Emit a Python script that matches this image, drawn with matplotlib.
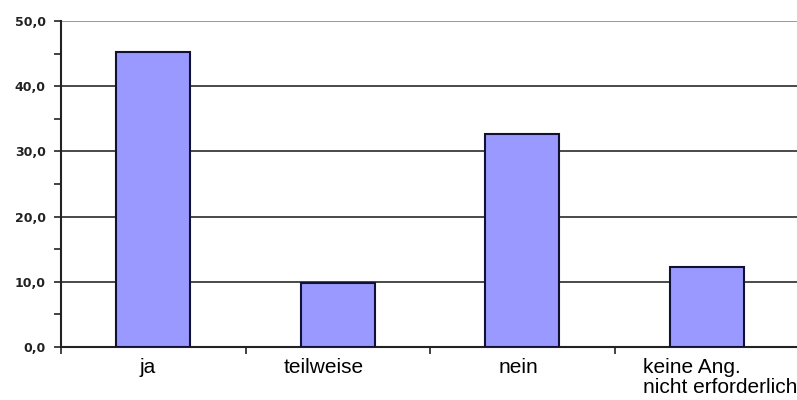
import matplotlib
matplotlib.use("Agg")
import matplotlib.pyplot as plt
from matplotlib.ticker import MultipleLocator, FixedLocator, FuncFormatter

categories = ["ja", "teilweise", "nein", "keine Ang.\nnicht erforderlich"]
values = [45.2, 9.8, 32.7, 12.3]
yticks = [0, 10, 20, 30, 40, 50]
label_shift = [-0.033, -0.076, -0.022, 0.073]  # layout nudges of category labels

plt.rcParams['font.family'] = ['Liberation Sans', 'DejaVu Sans']
fig = plt.figure(figsize=(7.97, 4.0), dpi=100)
ax = fig.add_axes([61/797, 1-347/400, 738/797, (347-21)/400])

x = list(range(len(categories)))
ax.set_axisbelow(True)
for yv in yticks[1:]:
    ax.axhline(yv, color='#2a2a2a' if yv < 50 else '#888888', lw=1.2, zorder=0)
ax.bar(x, values, width=0.4, color='#9999FF', edgecolor='#111133', linewidth=1.5, zorder=3)

ax.set_xlim(-0.5, 3.5)
ax.set_ylim(0, 50)
ax.set_yticks(yticks)
ax.yaxis.set_minor_locator(MultipleLocator(5))
ax.yaxis.set_major_formatter(FuncFormatter(lambda v, p: f"{v:.1f}".replace('.', ',')))
for lab in ax.get_yticklabels():
    lab.set_fontweight('bold')
    lab.set_fontsize(9)
    lab.set_family('DejaVu Sans')
    lab.set_color('#222222')
ax.tick_params(axis='y', which='both', length=5, width=1.2, color='#222222', pad=6)

ax.xaxis.set_major_locator(FixedLocator([-0.5, 0.5, 1.5, 2.5, 3.5]))
ax.xaxis.set_major_formatter(FuncFormatter(lambda v, p: ""))
ax.tick_params(axis='x', which='major', length=5, width=1.2, color='#222222')
for i, c in enumerate(categories):
    ax.text(i + label_shift[i], -0.035, c, transform=ax.get_xaxis_transform(),
            ha='center', va='top', multialignment='left', fontsize=15, linespacing=1.05)

for s in ['top', 'right']:
    ax.spines[s].set_visible(False)
ax.spines['left'].set_linewidth(1.5)
ax.spines['left'].set_color('#222222')
ax.spines['bottom'].set_linewidth(1.5)
ax.spines['bottom'].set_color('#222222')

fig.savefig("out.png", dpi=100)
